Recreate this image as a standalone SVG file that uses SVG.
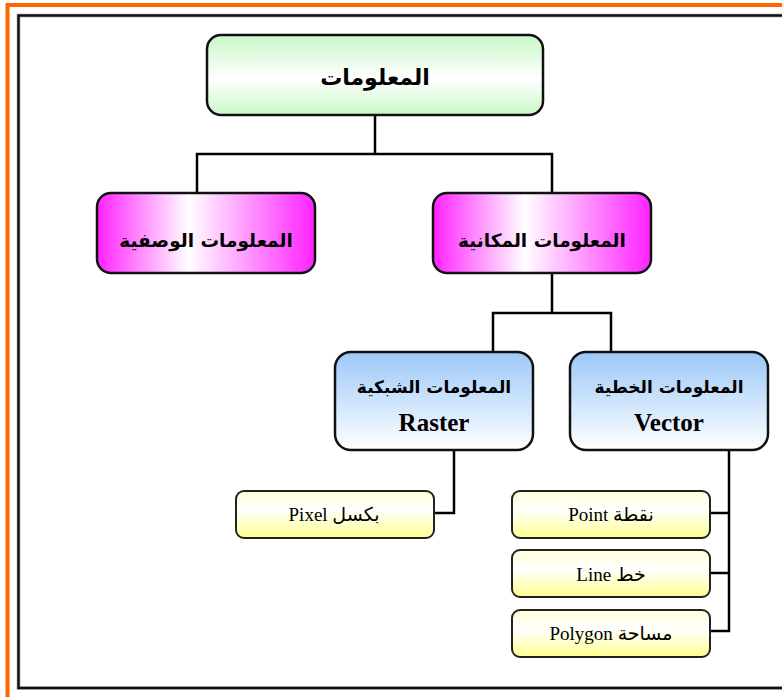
<svg xmlns="http://www.w3.org/2000/svg" width="782" height="697" viewBox="0 0 782 697">
<defs>
<linearGradient id="gGreen" x1="0" y1="0" x2="0" y2="1">
<stop offset="0" stop-color="#c8f8c8"/>
<stop offset="0.55" stop-color="#ffffff"/>
<stop offset="1" stop-color="#c8f8c8"/>
</linearGradient>
<linearGradient id="gMag" x1="0" y1="0" x2="1" y2="0">
<stop offset="0" stop-color="#ff22ff"/>
<stop offset="0.42" stop-color="#ffffff"/>
<stop offset="1" stop-color="#ff22ff"/>
</linearGradient>
<linearGradient id="gBlue" x1="0" y1="0" x2="0" y2="1">
<stop offset="0" stop-color="#9cc8f8"/>
<stop offset="1" stop-color="#ffffff"/>
</linearGradient>
<linearGradient id="gYel" x1="0" y1="0" x2="0" y2="1">
<stop offset="0" stop-color="#ffffd8"/>
<stop offset="0.4" stop-color="#ffffff"/>
<stop offset="1" stop-color="#ffff90"/>
</linearGradient>
</defs>
<style>
.box{stroke:#111;stroke-width:2.5}
.leaf{stroke:#222;stroke-width:2}
.conn{fill:none;stroke:#000;stroke-width:2.5}
.ar{font-family:"DejaVu Sans",sans-serif;font-weight:bold;text-anchor:middle;fill:#000}
.en{font-family:"Liberation Serif",serif;font-weight:bold;text-anchor:middle;fill:#000}
.lf{font-family:"Liberation Serif","DejaVu Sans",serif;font-size:19px;text-anchor:middle;fill:#000}
</style>
<rect width="782" height="697" fill="#ffffff"/>
<g id="frame">
<path d="M7.5 697 V5 H782" fill="none" stroke="#ff6600" stroke-width="4"/>
<rect x="18.5" y="15.5" width="800" height="672.5" fill="none" stroke="#c8c8c8" stroke-width="4"/>
<rect x="18.5" y="15.5" width="800" height="672.5" fill="none" stroke="#111" stroke-width="2.5"/>
</g>
<g id="connectors">
<path class="conn" d="M375 115 V154 M197 193 V154 H552 V193"/>
<path class="conn" d="M552 273 V313 M493 352 V313 H611 V352"/>
<path class="conn" d="M454 450 V513 H434"/>
<path class="conn" d="M729 450 V631 H710 M710 513 H729 M710 573 H729"/>
</g>
<g id="n-root">
<rect class="box" x="207" y="35" width="336" height="80" rx="14" fill="url(#gGreen)"/>
<text class="ar" x="375" y="85" font-size="22">المعلومات</text>
</g>
<g id="n-desc">
<rect class="box" x="97" y="193" width="218" height="80" rx="14" fill="url(#gMag)"/>
<text class="ar" x="206" y="247" font-size="18.5">المعلومات الوصفية</text>
</g>
<g id="n-spatial">
<rect class="box" x="433" y="193" width="218" height="80" rx="14" fill="url(#gMag)"/>
<text class="ar" x="542" y="247" font-size="18.5">المعلومات المكانية</text>
</g>
<g id="n-raster">
<rect class="box" x="335" y="352" width="198" height="98" rx="16" fill="url(#gBlue)"/>
<text class="ar" x="434" y="393" font-size="17">المعلومات الشبكية</text>
<text class="en" x="434" y="431" font-size="25">Raster</text>
</g>
<g id="n-vector">
<rect class="box" x="570" y="352" width="198" height="98" rx="16" fill="url(#gBlue)"/>
<text class="ar" x="669" y="393" font-size="17">المعلومات الخطية</text>
<text class="en" x="669" y="431" font-size="25">Vector</text>
</g>
<g id="n-pixel">
<rect class="leaf" x="236" y="491" width="198" height="47" rx="8" fill="url(#gYel)"/>
<text class="lf" x="334" y="521">Pixel بكسل</text>
</g>
<g id="n-point">
<rect class="leaf" x="512" y="491" width="198" height="47" rx="8" fill="url(#gYel)"/>
<text class="lf" x="611" y="521">Point نقطة</text>
</g>
<g id="n-line">
<rect class="leaf" x="512" y="550" width="198" height="47" rx="8" fill="url(#gYel)"/>
<text class="lf" x="611" y="581">Line خط</text>
</g>
<g id="n-polygon">
<rect class="leaf" x="512" y="610" width="198" height="47" rx="8" fill="url(#gYel)"/>
<text class="lf" x="611" y="640">Polygon مساحة</text>
</g>
</svg>
